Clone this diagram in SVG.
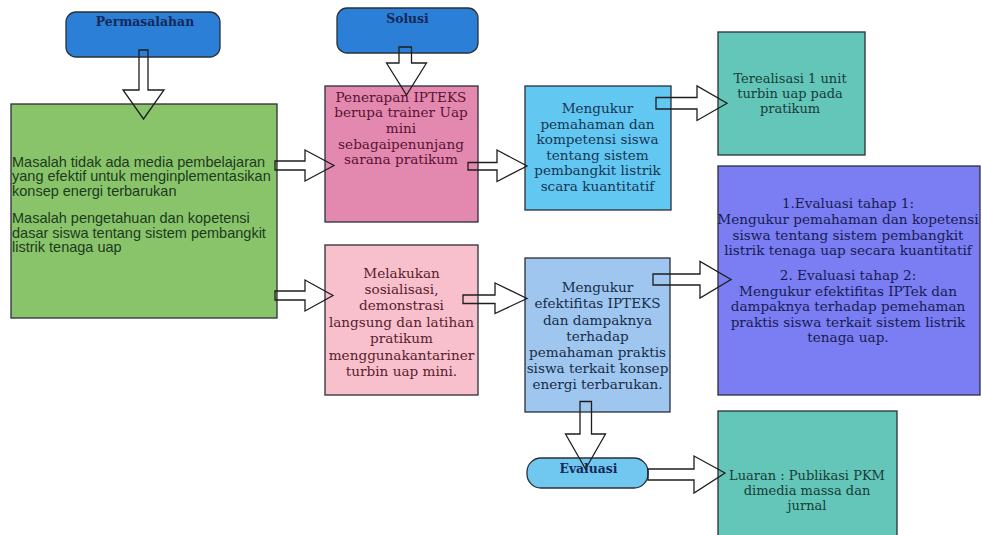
<svg xmlns="http://www.w3.org/2000/svg" width="982" height="535" viewBox="0 0 982 535">
<style>
.box{stroke:#2a2f38;stroke-width:1.3}
.t{font-family:"DejaVu Serif","Liberation Serif",serif;font-size:13.6px;text-anchor:middle}
.t2{font-family:"DejaVu Serif","Liberation Serif",serif;font-size:13px;text-anchor:middle}
.h{font-family:"DejaVu Serif","Liberation Serif",serif;font-size:12.4px;font-weight:bold;text-anchor:middle;fill:#14285a}
.s{font-family:"Liberation Sans",Arial,sans-serif;font-size:14.5px;fill:#1d3a1d}
.arr{fill:none;stroke:#1e1e1e;stroke-width:1.3;stroke-linejoin:miter}
</style>
<rect width="982" height="535" fill="#ffffff"/>
<g id="permasalahan">
<rect class="box" x="66" y="12" width="154" height="45" rx="10" fill="#2b7fd6"/>
<text class="h" x="145" y="26">Permasalahan</text>
</g>
<g id="solusi">
<rect class="box" x="337" y="8" width="141" height="45" rx="10" fill="#2b7fd6"/>
<text class="h" x="407.5" y="23">Solusi</text>
</g>
<g id="masalah">
<rect class="box" x="11" y="104" width="266" height="214" fill="#89c46b"/>
<text class="s" x="12" y="166.5">Masalah tidak ada media pembelajaran</text>
<text class="s" x="12" y="181">yang efektif untuk menginplementasikan</text>
<text class="s" x="12" y="195.5">konsep energi terbarukan</text>
<text class="s" x="12" y="223">Masalah pengetahuan dan kopetensi</text>
<text class="s" x="12" y="237.5">dasar siswa tentang sistem pembangkit</text>
<text class="s" x="12" y="252">listrik tenaga uap</text>
</g>
<g id="penerapan">
<rect class="box" x="325" y="86" width="153" height="136" fill="#e389b0"/>
<g class="t" fill="#5a1230">
<text x="401" y="101.5">Penerapan IPTEKS</text>
<text x="401" y="117.2">berupa trainer Uap</text>
<text x="401" y="132.9">mini</text>
<text x="401" y="148.6">sebagaipenunjang</text>
<text x="401" y="164.3">sarana pratikum</text>
</g>
</g>
<g id="mengukur1">
<rect class="box" x="525" y="86" width="146" height="124" fill="#62c8f2"/>
<g class="t" fill="#173654">
<text x="597.5" y="113">Mengukur</text>
<text x="597.5" y="128.5">pemahaman dan</text>
<text x="597.5" y="144">kompetensi siswa</text>
<text x="597.5" y="159.5">tentang sistem</text>
<text x="597.5" y="175">pembangkit listrik</text>
<text x="597.5" y="190.5">scara kuantitatif</text>
</g>
</g>
<g id="terealisasi">
<rect class="box" x="718" y="32" width="147" height="123" fill="#63c6b9"/>
<g class="t2" fill="#183c38">
<text x="790" y="82.5">Terealisasi 1 unit</text>
<text x="790" y="97.5">turbin uap pada</text>
<text x="790" y="112.5">pratikum</text>
</g>
</g>
<g id="evaluasi-tahap">
<rect class="box" x="718" y="166" width="262" height="229" fill="#7b7ef2"/>
<g class="t" fill="#161c52">
<text x="848" y="208">1.Evaluasi tahap 1:</text>
<text x="848" y="224">Mengukur pemahaman dan kopetensi</text>
<text x="848" y="239.5">siswa tentang sistem pembangkit</text>
<text x="848" y="255">listrik tenaga uap secara kuantitatif</text>
<text x="848" y="280">2. Evaluasi tahap 2:</text>
<text x="848" y="295.5">Mengukur efektifitas IPTek dan</text>
<text x="848" y="311">dampaknya terhadap pemehaman</text>
<text x="848" y="326.5">praktis siswa terkait sistem listrik</text>
<text x="848" y="342">tenaga uap.</text>
</g>
</g>
<g id="melakukan">
<rect class="box" x="325" y="245" width="153" height="150" fill="#f8c0cc"/>
<g class="t" fill="#58202e">
<text x="401.5" y="277.5">Melakukan</text>
<text x="401.5" y="293.5">sosialisasi,</text>
<text x="401.5" y="310">demonstrasi</text>
<text x="401.5" y="326.5">langsung dan latihan</text>
<text x="401.5" y="343">pratikum</text>
<text x="401.5" y="359.5">menggunakantariner</text>
<text x="401.5" y="375.5">turbin uap mini.</text>
</g>
</g>
<g id="mengukur2">
<rect class="box" x="525" y="258" width="145" height="154" fill="#9fc6ef"/>
<g class="t" fill="#172c48">
<text x="597.5" y="291.5">Mengukur</text>
<text x="597.5" y="308">efektifitas IPTEKS</text>
<text x="597.5" y="324.5">dan dampaknya</text>
<text x="597.5" y="340.5">terhadap</text>
<text x="597.5" y="356.5">pemahaman praktis</text>
<text x="597.5" y="372.5">siswa terkait konsep</text>
<text x="597.5" y="389">energi terbarukan.</text>
</g>
</g>
<g id="evaluasi">
<rect class="box" x="527" y="458" width="121" height="30" rx="14" fill="#70c8f0"/>
<text class="h" x="588.5" y="472.5">Evaluasi</text>
</g>
<g id="luaran">
<rect class="box" x="718" y="411" width="179" height="130" fill="#63c6b9"/>
<g class="t2" fill="#183c38">
<text x="807" y="479.5">Luaran : Publikasi PKM</text>
<text x="807" y="494.5">dimedia massa dan</text>
<text x="807" y="509.5">jurnal</text>
</g>
</g>
<g id="connectors">
<path class="arr" d="M139,50 H148 V90 H164 L143.5,119 L123,90 H139 Z"/>
<path class="arr" d="M399,47 H411.5 V63 H426.5 L406.5,95 L386.5,63 H399 Z"/>
<path class="arr" d="M275,161 H305 V150 L334,165.5 L305,181 V170 H275 Z"/>
<path class="arr" d="M275,291 H305 V280 L333,295.5 L305,311 V300 H275 Z"/>
<path class="arr" d="M468,162.5 H497 V150 L527,166 L497,181.5 V170 H468 Z"/>
<path class="arr" d="M656,97.5 H697 V86 L727,103.3 L697,120.5 V109 H656 Z"/>
<path class="arr" d="M463,295 H495 V283 L527,298.5 L495,313.5 V303.5 H463 Z"/>
<path class="arr" d="M653,274 H700 V261.5 L731,279.5 L700,298 V285 H653 Z"/>
<path class="arr" d="M580,401.5 H591.5 V434 H605.5 L585.5,469 L565.5,434 H580 Z"/>
<path class="arr" d="M648,469 H694 V456 L725,473 L694,493 V480 H648 Z"/>
</g>
</svg>
